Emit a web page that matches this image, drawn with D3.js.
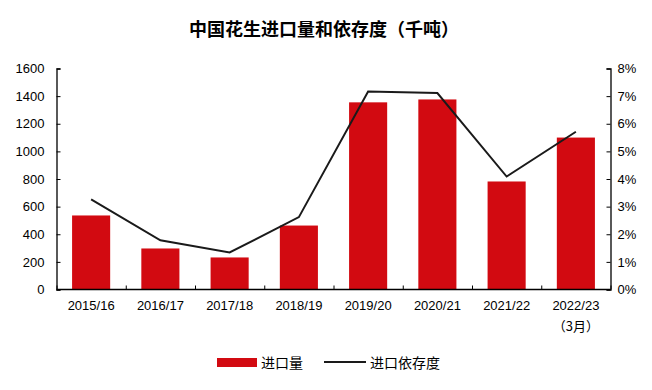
<!DOCTYPE html>
<html><head><meta charset="utf-8">
<script src="https://cdn.jsdelivr.net/npm/d3@7"></script>
<style>body{margin:0;background:#fff}svg{display:block}</style>
</head><body><svg id="c" width="652" height="390"></svg>
<script>
const categories = ["2015/16","2016/17","2017/18","2018/19","2019/20","2020/21","2021/22","2022/23"];
const categorySub = ["","","","","","","","（3月）"];
const importVolume = [536, 297, 232, 463, 1355, 1376, 782, 1100];
const dependency = [3.26, 1.78, 1.34, 2.62, 7.17, 7.11, 4.09, 5.71];
const leftTicks = [0,200,400,600,800,1000,1200,1400,1600];
const rightTicks = [0,1,2,3,4,5,6,7,8];
const title = "中国花生进口量和依存度（千吨）";
const legendLabels = ["进口量","进口依存度"];

const svg = d3.select("#c");
const m = {l:56.5, r:610.5, t:68.5, b:289.5};
const x = d3.scaleBand().domain(categories).range([m.l, m.r]).paddingInner(0.45).paddingOuter(0.225);
const xc = d3.scalePoint().domain(categories).range([m.l, m.r]).padding(0.5);
const y = d3.scaleLinear().domain([0,1600]).range([m.b, m.t]);
const y2 = d3.scaleLinear().domain([0,8]).range([m.b, m.t]);
const red = "#D20A11";
const font = "'Liberation Sans', Arial, sans-serif";
const cjk = "'Noto Sans CJK SC', sans-serif";

svg.append("text").attr("x", 324).attr("y", 36).attr("text-anchor","middle")
  .attr("font-family", cjk).attr("font-weight","bold").attr("font-size",18).text(title);

svg.selectAll("rect.bar").data(importVolume).join("rect").attr("class","bar")
  .attr("x",(d,i)=>x(categories[i])).attr("width",x.bandwidth())
  .attr("y",d=>y(d)).attr("height",d=>y(0)-y(d)).attr("fill",red);

const line = d3.line().x((d,i)=>xc(categories[i])).y(d=>y2(d));
svg.append("path").datum(dependency).attr("d",line).attr("fill","none")
  .attr("stroke","#1a1a1a").attr("stroke-width",2);

// axes
const gl = svg.append("g").attr("transform",`translate(${m.l},0)`)
  .call(d3.axisLeft(y).tickValues(leftTicks).tickSize(-4).tickPadding(12).tickFormat(d3.format("d")));
const gr = svg.append("g").attr("transform",`translate(${m.r},0)`)
  .call(d3.axisRight(y2).tickValues(rightTicks).tickSize(-4).tickPadding(7).tickFormat(d=>d+"%"));
const xTickVals = d3.range(categories.length+1).map(i=>m.l + i*(m.r-m.l)/categories.length);
const gb = svg.append("g").attr("transform",`translate(0,${m.b})`)
  .call(d3.axisBottom(d3.scaleLinear().domain([m.l,m.r]).range([m.l,m.r])).tickValues(xTickVals).tickSize(-4).tickFormat(""));
[gl,gr,gb].forEach(g=>{
  g.select(".domain").attr("stroke","#000").attr("stroke-width",1.3);
  g.selectAll(".tick line").attr("stroke","#000");
  g.selectAll("text").attr("font-family",font).attr("font-size",13).attr("fill","#000");
});
gb.select(".domain").attr("d",`M${m.l},0H${m.r}`);

svg.selectAll("text.xl").data(categories).join("text").attr("class","xl")
  .attr("x",d=>xc(d)).attr("y",310).attr("text-anchor","middle")
  .attr("font-family",font).attr("font-size",13).text(d=>d);
svg.selectAll("text.xs").data(categorySub).join("text").attr("class","xs")
  .attr("x",(d,i)=>xc(categories[i])).attr("y",331).attr("text-anchor","middle")
  .attr("font-family",cjk).attr("font-size",13).text(d=>d);

// legend
svg.append("rect").attr("x",217).attr("y",358).attr("width",40).attr("height",9).attr("fill",red);
svg.append("text").attr("x",261).attr("y",368).attr("font-family",cjk).attr("font-size",14).text(legendLabels[0]);
svg.append("line").attr("x1",324).attr("x2",366).attr("y1",362).attr("y2",362).attr("stroke","#1a1a1a").attr("stroke-width",2);
svg.append("text").attr("x",370).attr("y",368).attr("font-family",cjk).attr("font-size",14).text(legendLabels[1]);
</script></body></html>
